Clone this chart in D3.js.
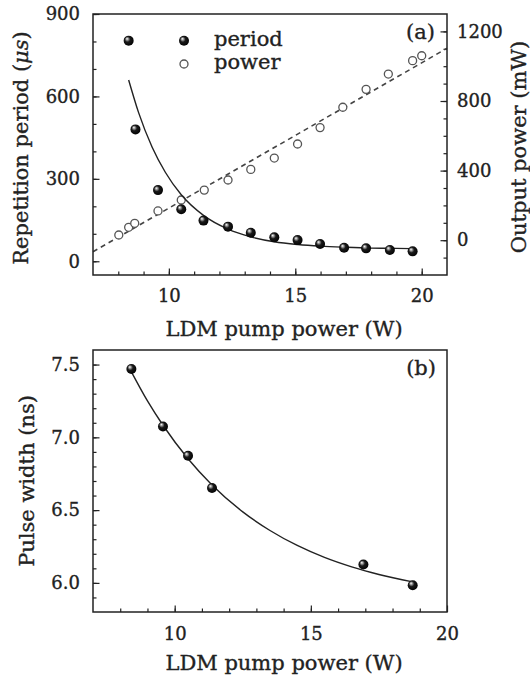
<!DOCTYPE html>
<html>
<head>
<meta charset="utf-8">
<script src="https://cdn.jsdelivr.net/npm/d3@7"></script>
<style>
  body { margin: 0; background: #fff; }
  svg { display: block; font-family: "DejaVu Serif", serif; }
  svg text { stroke: #222; stroke-width: 0.35px; }
</style>
</head>
<body>
<svg id="chart" width="530" height="677"></svg>
<script>
"use strict";

// Panel (a): repetition period (left axis) and output power (right axis)
const periodX = [8.41, 8.68, 9.57, 10.49, 11.37, 12.34, 13.24, 14.17, 15.09, 15.98, 16.93, 17.80, 18.74, 19.64];
const periodY = [803, 480, 259, 189, 148, 126, 104, 87, 77, 63, 49, 47, 41, 36];
const powerX = [8.02, 8.41, 8.65, 9.57, 10.49, 11.40, 12.34, 13.24, 14.17, 15.09, 15.98, 16.88, 17.80, 18.68, 19.64, 20.0];
const powerY = [30, 74, 97, 168, 231, 288, 346, 407, 472, 553, 647, 764, 867, 955, 1032, 1060];

// fitted curves
const periodFitX = [8.41, 8.8, 9.34, 9.86, 10.49, 11.37, 12.34, 13.24, 14.17, 15.1, 16, 17, 18, 19, 19.64];
const periodFitY = [660, 542, 415, 324, 242, 167, 117, 89, 71, 61, 55, 51, 48, 47, 46];
const powerFitX = [7, 21];
const powerFitY = [-66, 1103];

// Panel (b): pulse width
const widthX = [8.41, 9.57, 10.49, 11.37, 16.93, 18.74];
const widthY = [7.47, 7.075, 6.873, 6.652, 6.126, 5.984];
const widthFitX = [8.41, 9.0, 9.57, 10.49, 11.37, 12.5, 13.5, 14.5, 15.5, 16.5, 17.5, 18.74];
const widthFitY = [7.45, 7.25, 7.083, 6.853, 6.673, 6.488, 6.36, 6.257, 6.175, 6.11, 6.058, 6.007];

// ticks
const xMajorA = [10, 15, 20], xMinorA = d3.range(8, 21);
const periodMajor = [0, 300, 600, 900], periodMinor = d3.range(0, 901, 100);
const powerMajor = [0, 400, 800, 1200], powerMinor = d3.range(-100, 1201, 100);
const xMajorB = [10, 15, 20], xMinorB = d3.range(8, 20);
const widthMajor = [6.0, 6.5, 7.0, 7.5], widthMinor = d3.range(59, 76).map(d => d / 10);

var svg = d3.select("#chart");

// shaded ball marker
var grad = svg.append("defs").append("radialGradient")
  .attr("id", "ball")
  .attr("cx", "45%").attr("cy", "45%").attr("r", "60%")
  .attr("fx", "33%").attr("fy", "30%");
grad.append("stop").attr("offset", "0%").attr("stop-color", "#fff");
grad.append("stop").attr("offset", "20%").attr("stop-color", "#999");
grad.append("stop").attr("offset", "45%").attr("stop-color", "#1a1a1a");
grad.append("stop").attr("offset", "100%").attr("stop-color", "#000");

var plotA = { left: 93, right: 447, top: 14, bottom: 275 };
var plotB = { left: 93, right: 447, top: 350, bottom: 612 };

var xA = d3.scaleLinear().domain([7, 21]).range([plotA.left, plotA.right]);
var yPeriod = d3.scaleLinear().domain([-50, 900]).range([plotA.bottom, plotA.top]);
var yPower = d3.scaleLinear().domain([-200, 1300]).range([plotA.bottom, plotA.top]);

var xB = d3.scaleLinear().domain([7, 20]).range([plotB.left, plotB.right]);
var yWidth = d3.scaleLinear().domain([5.8, 7.6]).range([plotB.bottom, plotB.top]);

function addAxis(axisFn, scale, major, minor, fmt, pad, tx, ty) {
  var gMinor = svg.append("g")
    .attr("transform", "translate(" + tx + "," + ty + ")")
    .call(axisFn(scale).tickValues(minor).tickSize(-3.5).tickFormat(""));
  var gMajor = svg.append("g")
    .attr("transform", "translate(" + tx + "," + ty + ")")
    .call(axisFn(scale).tickValues(major).tickSize(-6.5).tickPadding(pad).tickFormat(fmt));
  [gMinor, gMajor].forEach(function(a) {
    a.select(".domain").remove();
    a.attr("font-family", null).attr("font-size", null);
    a.selectAll("line").attr("stroke", "#222").attr("stroke-width", 1.2);
  });
  gMajor.selectAll("text").attr("fill", "#222").attr("font-size", 18);
}

function frame(p) {
  svg.append("rect")
    .attr("x", p.left).attr("y", p.top)
    .attr("width", p.right - p.left).attr("height", p.bottom - p.top)
    .attr("fill", "none").attr("stroke", "#222").attr("stroke-width", 1.5);
}

function title(text, x, y, rotate) {
  var t = svg.append("text")
    .attr("text-anchor", "middle")
    .attr("font-size", 21)
    .attr("fill", "#222")
    .attr("transform", "translate(" + x + "," + y + ")" + (rotate ? " rotate(-90)" : ""));
  return t.text(text);
}

function balls(xs, ys, sx, sy) {
  svg.append("g").selectAll("circle")
    .data(xs)
    .join("circle")
    .attr("cx", d => sx(d))
    .attr("cy", (d, i) => sy(ys[i]))
    .attr("r", 5)
    .attr("fill", "url(#ball)");
}

function fitLine(xs, ys, sx, sy) {
  svg.append("path")
    .datum(xs.map((d, i) => [d, ys[i]]))
    .attr("fill", "none")
    .attr("stroke", "#222")
    .attr("stroke-width", 1.4)
    .attr("d", d3.line().x(d => sx(d[0])).y(d => sy(d[1])).curve(d3.curveMonotoneX));
}

// ---- panel (a)
addAxis(d3.axisBottom, xA, xMajorA, xMinorA, d3.format("d"), 14, 0, plotA.bottom);
addAxis(d3.axisLeft, yPeriod, periodMajor, periodMinor, d3.format("d"), 13, plotA.left, 0);
addAxis(d3.axisRight, yPower, powerMajor, powerMinor, d3.format("d"), 10, plotA.right, 0);

// dashed linear fit of the power
svg.append("path")
  .datum(powerFitX.map((d, i) => [d, powerFitY[i]]))
  .attr("fill", "none")
  .attr("stroke", "#444")
  .attr("stroke-width", 1.6)
  .attr("stroke-dasharray", "5,4")
  .attr("d", d3.line().x(d => xA(d[0])).y(d => yPower(d[1])));

svg.append("g").selectAll("circle")
  .data(powerX)
  .join("circle")
  .attr("cx", d => xA(d))
  .attr("cy", (d, i) => yPower(powerY[i]))
  .attr("r", 4)
  .attr("fill", "#fff")
  .attr("stroke", "#555")
  .attr("stroke-width", 1.3);

fitLine(periodFitX, periodFitY, xA, yPeriod);
balls(periodX, periodY, xA, yPeriod);

frame(plotA);

// legend
svg.append("circle").attr("cx", 184).attr("cy", 40.7).attr("r", 5).attr("fill", "url(#ball)");
svg.append("circle").attr("cx", 184).attr("cy", 64).attr("r", 4)
  .attr("fill", "#fff").attr("stroke", "#555").attr("stroke-width", 1.3);
svg.append("text").attr("x", 214).attr("y", 45.5).attr("font-size", 21).attr("fill", "#222").text("period");
svg.append("text").attr("x", 214).attr("y", 68.5).attr("font-size", 21).attr("fill", "#222").text("power");
svg.append("text").attr("x", 435).attr("y", 38.5).attr("text-anchor", "end")
  .attr("font-size", 21).attr("fill", "#222").text("(a)");

title("LDM pump power (W)", 284, 336, false);
var yt = title("", 28, 148, true);
yt.append("tspan").text("Repetition period (");
yt.append("tspan").attr("font-style", "italic").text("\u03bcs");
yt.append("tspan").text(")");
title("Output power (mW)", 526, 147, true);

// ---- panel (b)
addAxis(d3.axisBottom, xB, xMajorB, xMinorB, d3.format("d"), 15, 0, plotB.bottom);
addAxis(d3.axisLeft, yWidth, widthMajor, widthMinor, d3.format(".1f"), 13, plotB.left, 0);

fitLine(widthFitX, widthFitY, xB, yWidth);
balls(widthX, widthY, xB, yWidth);

frame(plotB);

svg.append("text").attr("x", 436).attr("y", 375).attr("text-anchor", "end")
  .attr("font-size", 21).attr("fill", "#222").text("(b)");

title("LDM pump power (W)", 284, 670, false);
title("Pulse width (ns)", 34, 481, true);
</script>
</body>
</html>
